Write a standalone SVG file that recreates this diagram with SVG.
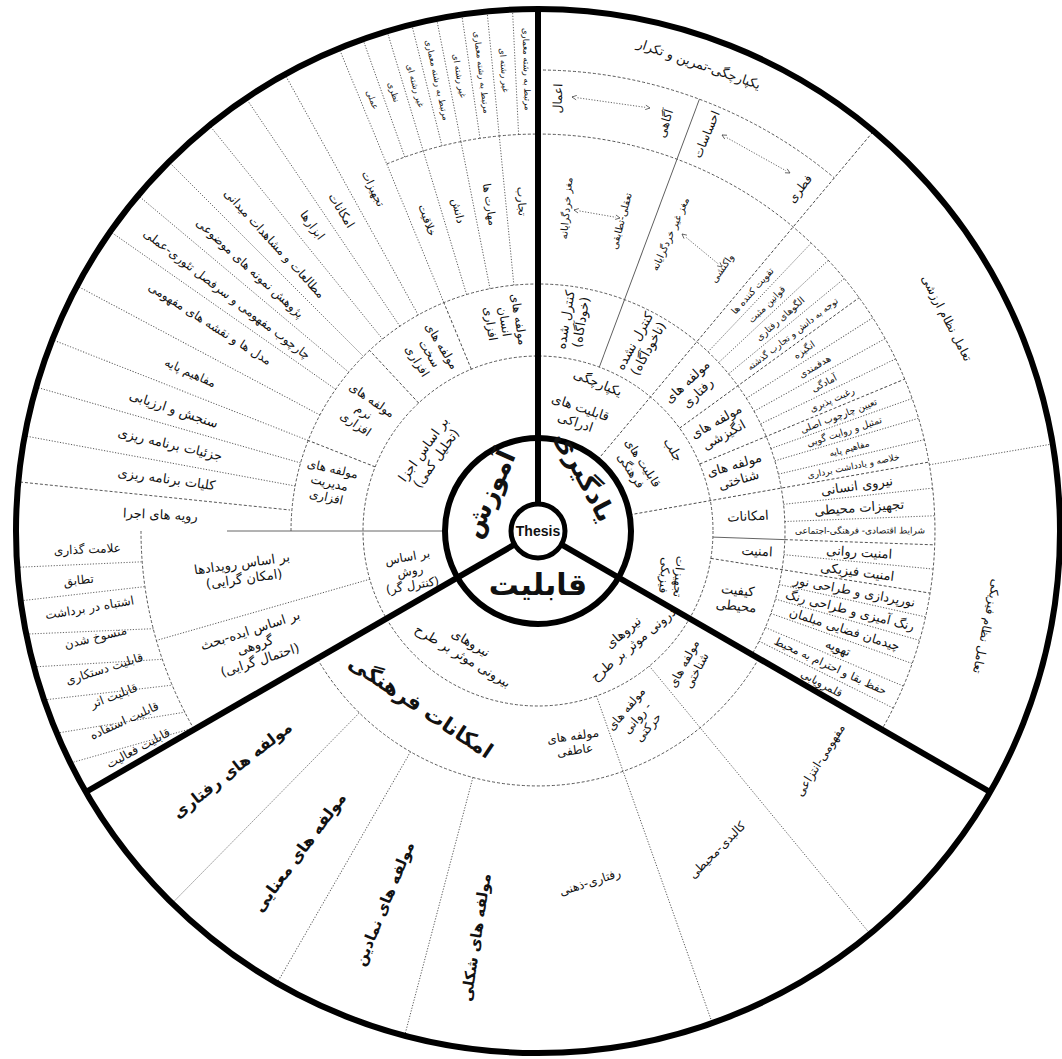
<svg xmlns="http://www.w3.org/2000/svg" width="1062" height="1059" viewBox="0 0 1062 1059">
<defs>
<style>
text{font-family:"DejaVu Sans",sans-serif;fill:#111;text-anchor:middle}
.b{font-weight:bold}
.thick{stroke:#000;stroke-width:6;fill:none}
.ds{stroke:#444;stroke-width:0.9;fill:none;stroke-dasharray:3 2}
.dt{stroke:#555;stroke-width:0.9;fill:none;stroke-dasharray:1.2 1.6}
.sl{stroke:#555;stroke-width:0.9;fill:none}
.ar{stroke:#555;stroke-width:0.9;fill:none;stroke-dasharray:1.2 1.6;marker-start:url(#ah);marker-end:url(#ah)}
</style>
<marker id="ah" viewBox="0 0 8 8" refX="7" refY="4" markerWidth="6" markerHeight="6" orient="auto-start-reverse" markerUnits="userSpaceOnUse"><path d="M1,1 L7,4 L1,7" fill="#fff" stroke="#444" stroke-width="1"/></marker>
</defs>
<rect width="1062" height="1059" fill="#fff"/>
<g id="frame">
<g transform="translate(538 531)">
<circle r="175" class="ds"/>
<path class="ds" d="M-247,0 A247,247 0 1 1 213.9,123.5"/>
<path class="ds" d="M220.8,127.5 A255,255 0 0 1 -220.8,127.5"/>
<path class="ds" d="M-151.3,-367 A397,397 0 0 1 343.8,198.5"/>
<path class="ds" d="M-343.8,198.5 A397,397 0 0 1 -397,0"/>
<path class="ds" d="M0,-461 A461,461 0 0 1 296.3,-353.1"/>
<line class="ds" x1="93" x2="522" transform="rotate(-50)"/>
<line class="sl" x1="175" x2="461" transform="rotate(-69.5)"/>
<line class="ds" x1="93" x2="397" transform="rotate(-10)"/>
<line class="ds" x1="175" x2="397" transform="rotate(-36)"/>
<line class="ds" x1="175" x2="397" transform="rotate(-22.5)"/>
<line class="sl" x1="175" x2="247" transform="rotate(2)"/>
<line class="ds" x1="247" x2="397" transform="rotate(2)"/>
<line class="ds" x1="175" x2="397" transform="rotate(9)"/>
<line class="dt" x1="397" x2="522" transform="rotate(-9.6)"/>
<g class="dt">
<line x1="247" x2="397" transform="rotate(-46.5)"/>
<line x1="247" x2="397" transform="rotate(-43)"/>
<line x1="247" x2="397" transform="rotate(-39.5)"/>
<line x1="247" x2="397" transform="rotate(-32.5)"/>
<line x1="247" x2="397" transform="rotate(-29)"/>
<line x1="247" x2="397" transform="rotate(-25.7)"/>
<line x1="247" x2="397" transform="rotate(-19.5)"/>
<line x1="247" x2="397" transform="rotate(-16.5)"/>
<line x1="247" x2="397" transform="rotate(-13.3)"/>
<line x1="247" x2="397" transform="rotate(-6.2)"/>
<line x1="247" x2="397" transform="rotate(-2.2)"/>
<line x1="247" x2="397" transform="rotate(5.5)"/>
<line x1="247" x2="397" transform="rotate(12.5)"/>
<line x1="247" x2="397" transform="rotate(16)"/>
<line x1="247" x2="397" transform="rotate(19.5)"/>
<line x1="247" x2="397" transform="rotate(23)"/>
<line x1="247" x2="397" transform="rotate(26.5)"/>
</g>
<line class="sl" x1="93" x2="311" transform="rotate(180)"/>
<line class="ds" x1="175" x2="247" transform="rotate(201.5)"/>
<line class="ds" x1="175" x2="247" transform="rotate(227)"/>
<line class="ds" x1="175" x2="247" transform="rotate(247.6)"/>
<g class="dt">
<line x1="247" x2="522" transform="rotate(190.5)"/>
<line x1="247" x2="522" transform="rotate(196)"/>
<line x1="247" x2="522" transform="rotate(201.5)"/>
<line x1="247" x2="522" transform="rotate(208)"/>
<line x1="247" x2="522" transform="rotate(215)"/>
<line x1="247" x2="522" transform="rotate(220)"/>
<line x1="247" x2="522" transform="rotate(225)"/>
<line x1="247" x2="522" transform="rotate(231)"/>
<line x1="247" x2="522" transform="rotate(236)"/>
<line x1="247" x2="522" transform="rotate(241)"/>
<line x1="247" x2="522" transform="rotate(247.6)"/>
<line x1="247" x2="397" transform="rotate(253.2)"/>
<line x1="247" x2="397" transform="rotate(258.8)"/>
<line x1="247" x2="397" transform="rotate(264.4)"/>
<line x1="397" x2="522" transform="rotate(250.4)"/>
<line x1="397" x2="522" transform="rotate(253.2)"/>
<line x1="397" x2="522" transform="rotate(256)"/>
<line x1="397" x2="522" transform="rotate(258.8)"/>
<line x1="397" x2="522" transform="rotate(261.6)"/>
<line x1="397" x2="522" transform="rotate(264.4)"/>
<line x1="397" x2="522" transform="rotate(267.2)"/>
</g>
<line class="dt" x1="175" x2="397" transform="rotate(164)"/>
<g class="dt">
<line x1="-520.7" y1="36.3" x2="-395.7" y2="30.8"/>
<line x1="-517.2" y1="69.8" x2="-392.9" y2="55.6"/>
<line x1="-511.5" y1="103.1" x2="-384.5" y2="97.7"/>
<line x1="-503.7" y1="135.9" x2="-375.4" y2="128.3"/>
<line x1="-493.6" y1="168.9" x2="-365.4" y2="154.1"/>
<line x1="-480.9" y1="202.1" x2="-352.8" y2="181.1"/>
<line x1="-467.2" y1="231.9" x2="-344.2" y2="196.9"/>
</g>
<g class="dt">
<line x1="175" x2="522" transform="rotate(50.5)"/>
<line x1="175" x2="522" transform="rotate(70.5)"/>
<line x1="255" x2="522" transform="rotate(104.8)"/>
<line x1="255" x2="522" transform="rotate(120)"/>
<line x1="255" x2="522" transform="rotate(134.5)"/>
</g>
</g>
<line class="ds" x1="20" y1="482" x2="290" y2="510"/>
<g transform="translate(538 531)">
<circle r="522" class="thick"/>
<line class="thick" x1="27" x2="522" transform="rotate(-90)"/>
<line class="thick" x1="27" x2="522" transform="rotate(30)"/>
<line class="thick" x1="27" x2="522" transform="rotate(150)"/>
<circle r="93" class="thick"/>
<circle r="27" fill="#fff" stroke="#000" stroke-width="5"/>
</g>
</g>
<g id="connectors">
<line class="ar" x1="572" y1="97" x2="650" y2="108"/>
<line class="ar" x1="722" y1="135" x2="790" y2="173"/>
<line class="ar" x1="574" y1="210" x2="620" y2="218"/>
<line class="ar" x1="682" y1="234" x2="722" y2="267"/>
</g>
<g id="core">
<g id="n-thesis"><text style="font-family:'Liberation Sans',Arial,sans-serif;font-weight:bold" font-size="14" x="538" y="536">Thesis</text></g>
<g id="n-yadgiri"><text class="b" font-size="26" transform="translate(585 476) rotate(62)" dy="0.35em">یادگیری</text></g>
<g id="n-amoozesh"><text class="b" font-size="26" transform="translate(489 494) rotate(-66)" dy="0.35em">آموزش</text></g>
<g id="n-ghabeliat"><text class="b" font-size="30" x="538" y="584" dy="0.35em">قابلیت</text></g>
</g>
<g id="sector-learning">
<g id="n-yekparchegi"><text font-size="13" transform="translate(538 531) rotate(-68) translate(160 0) rotate(90)" dy="0.35em">یکپارچگی</text></g>
<g id="n-edraki"><text font-size="13" transform="translate(538 531) rotate(-71) translate(123 0) rotate(90)"><tspan x="0" dy="-0.25em">قابلیت های</tspan><tspan x="0" dy="1.2em">ادراکی</tspan></text></g>
<g id="n-farhangi"><text font-size="12" transform="translate(538 531) rotate(-33) translate(118 0) rotate(90)"><tspan x="0" dy="-0.25em">قابلیت های</tspan><tspan x="0" dy="1.2em">فرهنگی</tspan></text></g>
<g id="n-jalb"><text font-size="13" transform="translate(538 531) rotate(-31) translate(158 0) rotate(90)" dy="0.35em">جلب</text></g>
<g id="n-tajhizat-fiziki"><text font-size="12" transform="translate(672 576) rotate(95)"><tspan x="0" dy="-0.25em">تجهیزات</tspan><tspan x="0" dy="1.2em">فیزیکی</tspan></text></g>
<g id="n-kontrol1"><text font-size="13" transform="translate(538 531) rotate(-80.5) translate(213 0)"><tspan x="0" dy="-0.25em">کنترل شده</tspan><tspan x="0" dy="1.2em">(خودآگاه)</tspan></text></g>
<g id="n-kontrol2"><text font-size="13" transform="translate(538 531) rotate(-61) translate(213 0)"><tspan x="0" dy="-0.25em">کنترل نشده</tspan><tspan x="0" dy="1.2em">(ناخودآگاه)</tspan></text></g>
<g id="n-m-raftari"><text font-size="13" transform="translate(538 531) rotate(-43) translate(211 0)"><tspan x="0" dy="-0.25em">مولفه های</tspan><tspan x="0" dy="1.2em">رفتاری</tspan></text></g>
<g id="n-m-angizeshi"><text font-size="13" transform="translate(538 531) rotate(-29.5) translate(209 0)"><tspan x="0" dy="-0.25em">مولفه های</tspan><tspan x="0" dy="1.2em">انگیزشی</tspan></text></g>
<g id="n-m-shenakhti"><text font-size="13" transform="translate(538 531) rotate(-16.5) translate(207 0)"><tspan x="0" dy="-0.25em">مولفه های</tspan><tspan x="0" dy="1.2em">شناختی</tspan></text></g>
<g id="n-emkanat-r"><text font-size="13" transform="translate(748 516) rotate(-3)" dy="0.35em">امکانات</text></g>
<g id="n-amniat"><text font-size="13" transform="translate(757 551) rotate(3)" dy="0.35em">امنیت</text></g>
<g id="n-keyfiat"><text font-size="13" transform="translate(737 598) rotate(6)"><tspan x="0" dy="-0.25em">کیفیت</tspan><tspan x="0" dy="1.2em">محیطی</tspan></text></g>
<g id="n-maghz1"><text font-size="10" transform="translate(538 531) rotate(-85) translate(324 0)" dy="0.35em">مغز خردگرایانه</text></g>
<g id="n-taaghli"><text font-size="10" transform="translate(538 531) rotate(-75) translate(321 0)" dy="0.35em">تعقلی-تطابقی</text></g>
<g id="n-maghz2"><text font-size="10" transform="translate(538 531) rotate(-66) translate(325 0)" dy="0.35em">مغز غیر خردگرایانه</text></g>
<g id="n-vakoneshi"><text font-size="10" transform="translate(538 531) rotate(-55) translate(321 0)" dy="0.35em">واکنشی</text></g>
<g id="n-aamal"><text font-size="12" transform="translate(538 531) rotate(-87.4) translate(433 0)" dy="0.35em">اعمال</text></g>
<g id="n-agahi"><text font-size="12" transform="translate(538 531) rotate(-72.7) translate(427 0)" dy="0.35em">آگاهی</text></g>
<g id="n-ehsasat"><text font-size="12" transform="translate(538 531) rotate(-67) translate(431 0)" dy="0.35em">احساسات</text></g>
<g id="n-fetri"><text font-size="12" transform="translate(538 531) rotate(-52.6) translate(431 0)" dy="0.35em">فطری</text></g>
<g id="n-tamrin"><text font-size="13" transform="translate(538 531) rotate(-71) translate(494 0) rotate(90)" dy="0.35em">یکپارچگی-تمرین و تکرار</text></g>
<g id="n-arzeshi"><text font-size="12" transform="translate(538 531) rotate(-27.5) translate(461 0) rotate(90)" dy="0.35em">تعامل نظام ارزشی</text></g>
<g id="n-fiziki"><text font-size="12" transform="translate(538 531) rotate(12) translate(459 0) rotate(90)" dy="0.35em">تعامل نظام فیزیکی</text></g>
<g id="n-i01"><text font-size="9.5" transform="translate(538 531) rotate(-48.25) translate(322 0)" dy="0.35em">تقویت کننده ها</text></g>
<g id="n-i02"><text font-size="9.5" transform="translate(538 531) rotate(-44.75) translate(322 0)" dy="0.35em">قوانین مثبت</text></g>
<g id="n-i03"><text font-size="9.5" transform="translate(538 531) rotate(-41.25) translate(322 0)" dy="0.35em">الگوهای رفتاری</text></g>
<g id="n-i04"><text font-size="9" transform="translate(538 531) rotate(-37.75) translate(322 0)" dy="0.35em">توجه به دانش و تجارب گذشته</text></g>
<g id="n-i05"><text font-size="9.5" transform="translate(538 531) rotate(-34.25) translate(322 0)" dy="0.35em">انگیزه</text></g>
<g id="n-i06"><text font-size="9.5" transform="translate(538 531) rotate(-30.75) translate(322 0)" dy="0.35em">هدفمندی</text></g>
<g id="n-i07"><text font-size="9.5" transform="translate(538 531) rotate(-27.35) translate(322 0)" dy="0.35em">آمادگی</text></g>
<g id="n-i08"><text font-size="9.5" transform="translate(538 531) rotate(-24.1) translate(322 0)" dy="0.35em">رغبت پذیری</text></g>
<g id="n-i09"><text font-size="9.5" transform="translate(538 531) rotate(-21) translate(322 0)" dy="0.35em">تعیین چارچوب اصلی</text></g>
<g id="n-i10"><text font-size="9.5" transform="translate(538 531) rotate(-18) translate(322 0)" dy="0.35em">تمثیل و روایت گویی</text></g>
<g id="n-i11"><text font-size="9" transform="translate(538 531) rotate(-14.9) translate(322 0)" dy="0.35em">مفاهیم پایه</text></g>
<g id="n-i12"><text font-size="9" transform="translate(538 531) rotate(-11.65) translate(322 0)" dy="0.35em">خلاصه و یادداشت برداری</text></g>
<g id="n-i13"><text font-size="13" transform="translate(538 531) rotate(-8.1) translate(322 0)" dy="0.35em">نیروی انسانی</text></g>
<g id="n-i14"><text font-size="13" transform="translate(538 531) rotate(-4.2) translate(322 0)" dy="0.35em">تجهیزات محیطی</text></g>
<g id="n-i15"><text font-size="9" transform="translate(538 531) rotate(-0.1) translate(322 0)" dy="0.35em">شرایط اقتصادی- فرهنگی-اجتماعی</text></g>
<g id="n-i16"><text font-size="13" transform="translate(538 531) rotate(3.75) translate(322 0)" dy="0.35em">امنیت روانی</text></g>
<g id="n-i17"><text font-size="13" transform="translate(538 531) rotate(7.25) translate(322 0)" dy="0.35em">امنیت فیزیکی</text></g>
<g id="n-i18"><text font-size="12.5" transform="translate(538 531) rotate(10.75) translate(322 0)" dy="0.35em">نورپردازی و طراحی نور</text></g>
<g id="n-i19"><text font-size="12.5" transform="translate(538 531) rotate(14.25) translate(322 0)" dy="0.35em">رنگ آمیزی و طراحی رنگ</text></g>
<g id="n-i20"><text font-size="12.5" transform="translate(538 531) rotate(17.75) translate(322 0)" dy="0.35em">چیدمان فضایی مبلمان</text></g>
<g id="n-i21"><text font-size="12.5" transform="translate(538 531) rotate(21.25) translate(322 0)" dy="0.35em">تهویه</text></g>
<g id="n-i22"><text font-size="11" transform="translate(538 531) rotate(24.75) translate(322 0)" dy="0.35em">حفظ بقا و احترام به محیط</text></g>
<g id="n-i23"><text font-size="11" transform="translate(538 531) rotate(28.25) translate(322 0)" dy="0.35em">قلمرویابی</text></g>
</g>
<g id="sector-education">
<g id="n-ajza"><text font-size="13" transform="translate(538 531) rotate(215.5) translate(133 0) rotate(90)"><tspan x="0" dy="-0.25em">بر اساس اجزا</tspan><tspan x="0" dy="1.2em">(تحلیل کمی)</tspan></text></g>
<g id="n-ravesh"><text font-size="12" transform="translate(410 571) rotate(-10)"><tspan x="0" dy="-0.85em">بر اساس</tspan><tspan x="0" dy="1.2em">روش</tspan><tspan x="0" dy="1.2em">(کنترل گر)</tspan></text></g>
<g id="n-m-ensan"><text font-size="12" transform="translate(538 531) rotate(261) translate(212 0) rotate(180)"><tspan x="0" dy="-0.85em">مولفه های</tspan><tspan x="0" dy="1.2em">انسان</tspan><tspan x="0" dy="1.2em">افزاری</tspan></text></g>
<g id="n-m-sakht"><text font-size="12" transform="translate(538 531) rotate(238.6) translate(208 0) rotate(180)"><tspan x="0" dy="-0.85em">مولفه های</tspan><tspan x="0" dy="1.2em">سخت</tspan><tspan x="0" dy="1.2em">افزاری</tspan></text></g>
<g id="n-m-narm"><text font-size="12" transform="translate(538 531) rotate(214.4) translate(211 0) rotate(180)"><tspan x="0" dy="-0.85em">مولفه های</tspan><tspan x="0" dy="1.2em">نرم</tspan><tspan x="0" dy="1.2em">افزاری</tspan></text></g>
<g id="n-m-modiriat"><text font-size="12" transform="translate(538 531) rotate(193) translate(214 0) rotate(180)"><tspan x="0" dy="-0.85em">مولفه های</tspan><tspan x="0" dy="1.2em">مدیریت</tspan><tspan x="0" dy="1.2em">افزاری</tspan></text></g>
<g id="n-o01"><text font-size="13" transform="translate(538 531) rotate(182.5) translate(378 0) rotate(180)" dy="0.35em">رویه های اجرا</text></g>
<g id="n-o02"><text font-size="13" transform="translate(538 531) rotate(188) translate(375 0) rotate(180)" dy="0.35em">کلیات برنامه ریزی</text></g>
<g id="n-o03"><text font-size="13" transform="translate(538 531) rotate(193.3) translate(378 0) rotate(180)" dy="0.35em">جزئیات برنامه ریزی</text></g>
<g id="n-o04"><text font-size="13" transform="translate(538 531) rotate(198.5) translate(384 0) rotate(180)" dy="0.35em">سنجش و ارزیابی</text></g>
<g id="n-o05"><text font-size="12" transform="translate(538 531) rotate(204.5) translate(382 0) rotate(180)" dy="0.35em">مفاهیم پایه</text></g>
<g id="n-o06"><text font-size="12" transform="translate(538 531) rotate(212.3) translate(388 0) rotate(180)" dy="0.35em">مدل ها و نقشه های مفهومی</text></g>
<g id="n-o07"><text font-size="12" transform="translate(538 531) rotate(217.3) translate(391 0) rotate(180)" dy="0.35em">چارچوب مفهومی و سرفصل تئوری-عملی</text></g>
<g id="n-o08"><text font-size="12" transform="translate(538 531) rotate(222.4) translate(390 0) rotate(180)" dy="0.35em">پژوهش نمونه های موضوعی</text></g>
<g id="n-o09"><text font-size="12" transform="translate(538 531) rotate(227.5) translate(390 0) rotate(180)" dy="0.35em">مطالعات و مشاهدات میدانی</text></g>
<g id="n-o10"><text font-size="12" transform="translate(538 531) rotate(233.6) translate(380 0) rotate(180)" dy="0.35em">ابزارها</text></g>
<g id="n-o11"><text font-size="12" transform="translate(538 531) rotate(238.5) translate(376 0) rotate(180)" dy="0.35em">امکانات</text></g>
<g id="n-o12"><text font-size="11" transform="translate(538 531) rotate(244.3) translate(380 0) rotate(180)" dy="0.35em">تجهیزات</text></g>
<g id="n-khalaghiat"><text font-size="11" transform="translate(538 531) rotate(250.4) translate(330 0) rotate(180)" dy="0.35em">خلاقیت</text></g>
<g id="n-danesh"><text font-size="11" transform="translate(538 531) rotate(256) translate(330 0) rotate(180)" dy="0.35em">دانش</text></g>
<g id="n-maharat"><text font-size="11" transform="translate(538 531) rotate(261.6) translate(330 0) rotate(180)" dy="0.35em">مهارت ها</text></g>
<g id="n-tajarob"><text font-size="11" transform="translate(538 531) rotate(267.2) translate(330 0) rotate(180)" dy="0.35em">تجارب</text></g>
<g id="n-s1"><text font-size="8.5" transform="translate(538 531) rotate(249) translate(462 0) rotate(180)" dy="0.35em">عملی</text></g>
<g id="n-s2"><text font-size="8.5" transform="translate(538 531) rotate(251.8) translate(462 0) rotate(180)" dy="0.35em">نظری</text></g>
<g id="n-s3"><text font-size="8.5" transform="translate(538 531) rotate(254.6) translate(462 0) rotate(180)" dy="0.35em">غیر رشته ای</text></g>
<g id="n-s4"><text font-size="8.5" transform="translate(538 531) rotate(257.4) translate(462 0) rotate(180)" dy="0.35em">مرتبط به رشته معماری</text></g>
<g id="n-s5"><text font-size="8.5" transform="translate(538 531) rotate(260.2) translate(462 0) rotate(180)" dy="0.35em">غیر رشته ای</text></g>
<g id="n-s6"><text font-size="8.5" transform="translate(538 531) rotate(263) translate(462 0) rotate(180)" dy="0.35em">مرتبط به رشته معماری</text></g>
<g id="n-s7"><text font-size="8.5" transform="translate(538 531) rotate(265.8) translate(462 0) rotate(180)" dy="0.35em">غیر رشته ای</text></g>
<g id="n-s8"><text font-size="8.5" transform="translate(538 531) rotate(268.6) translate(462 0) rotate(180)" dy="0.35em">مرتبط به رشته معماری</text></g>
<g id="n-roydad"><text font-size="13" transform="translate(243 571) rotate(-8)"><tspan x="0" dy="-0.25em">بر اساس رویدادها</tspan><tspan x="0" dy="1.2em">(امکان گرایی)</tspan></text></g>
<g id="n-ideh"><text font-size="13" transform="translate(255 645) rotate(-18)"><tspan x="0" dy="-0.85em">بر اساس ایده-بحث</tspan><tspan x="0" dy="1.2em">گروهی</tspan><tspan x="0" dy="1.2em">(احتمال گرایی)</tspan></text></g>
<g id="n-l1"><text font-size="12" transform="translate(538 531) rotate(177.7) translate(451 0) rotate(180)" dy="0.35em">علامت گذاری</text></g>
<g id="n-l2"><text font-size="12" transform="translate(538 531) rotate(173.9) translate(462 0) rotate(180)" dy="0.35em">تطابق</text></g>
<g id="n-l3"><text font-size="12" transform="translate(538 531) rotate(170.3) translate(455 0) rotate(180)" dy="0.35em">اشتباه در برداشت</text></g>
<g id="n-l4"><text font-size="12" transform="translate(538 531) rotate(166.5) translate(455 0) rotate(180)" dy="0.35em">منسوخ شدن</text></g>
<g id="n-l5"><text font-size="12" transform="translate(538 531) rotate(162.4) translate(455 0) rotate(180)" dy="0.35em">قابلیت دستکاری</text></g>
<g id="n-l6"><text font-size="12" transform="translate(538 531) rotate(158.8) translate(455 0) rotate(180)" dy="0.35em">قابلیت اثر</text></g>
<g id="n-l7"><text font-size="12" transform="translate(538 531) rotate(155.4) translate(455 0) rotate(180)" dy="0.35em">قابلیت استفاده</text></g>
<g id="n-l8"><text font-size="12" transform="translate(538 531) rotate(151.5) translate(455 0) rotate(180)" dy="0.35em">قابلیت فعالیت</text></g>
</g>
<g id="sector-capability">
<g id="n-daroni"><text font-size="13" transform="translate(538 531) rotate(50) translate(140 0) rotate(-90)"><tspan x="0" dy="-0.25em">نیروهای</tspan><tspan x="0" dy="1.2em">درونی موثر بر طرح</tspan></text></g>
<g id="n-bironi"><text font-size="13" transform="translate(538 531) rotate(121) translate(138 0) rotate(-90)"><tspan x="0" dy="-0.25em">نیروهای</tspan><tspan x="0" dy="1.2em">بیرونی موثر بر طرح</tspan></text></g>
<g id="n-emkanat-farhangi"><text class="b" font-size="21" transform="translate(538 531) rotate(123.7) translate(211 0) rotate(-90)" dy="0.35em">امکانات فرهنگی</text></g>
<g id="n-atefi"><text font-size="12" transform="translate(574 743) rotate(-8)"><tspan x="0" dy="-0.25em">مولفه های</tspan><tspan x="0" dy="1.2em">عاطفی</tspan></text></g>
<g id="n-ravani"><text font-size="12" transform="translate(637 718) rotate(-50)"><tspan x="0" dy="-0.85em">مولفه های</tspan><tspan x="0" dy="1.2em">روانی -</tspan><tspan x="0" dy="1.2em">حرکتی</tspan></text></g>
<g id="n-shenakhti-b"><text font-size="12" transform="translate(690 667) rotate(-62)"><tspan x="0" dy="-0.25em">مولفه های</tspan><tspan x="0" dy="1.2em">شناختی</tspan></text></g>
<g id="n-b-raftari"><text class="b" font-size="16" transform="translate(538 531) rotate(142) translate(388 0) rotate(180)" dy="0.35em">مولفه های رفتاری</text></g>
<g id="n-b-manaei"><text class="b" font-size="16" transform="translate(538 531) rotate(126.6) translate(400 0) rotate(180)" dy="0.35em">مولفه های معنایی</text></g>
<g id="n-b-namadin"><text class="b" font-size="15" transform="translate(538 531) rotate(112.4) translate(403 0) rotate(180)" dy="0.35em">مولفه های نمادین</text></g>
<g id="n-b-shekli"><text class="b" font-size="15" transform="translate(538 531) rotate(98.7) translate(411 0) rotate(180)" dy="0.35em">مولفه های شکلی</text></g>
<g id="n-zehni"><text font-size="12" transform="translate(590 882) rotate(-18)" dy="0.35em">رفتاری-ذهنی</text></g>
<g id="n-kalbadi"><text font-size="12" transform="translate(717 850) rotate(-45)" dy="0.35em">کالبدی-محیطی</text></g>
<g id="n-entezai"><text font-size="12" transform="translate(820 760) rotate(-58)" dy="0.35em">مفهومی-انتزاعی</text></g>
</g>
</svg>
